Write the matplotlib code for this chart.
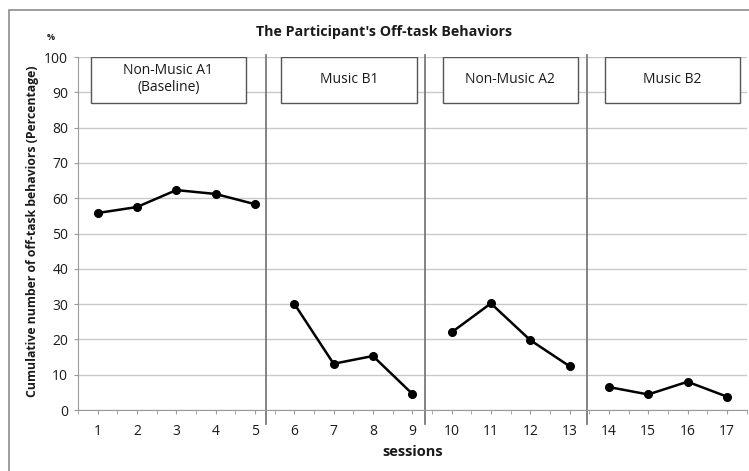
import numpy as np
import matplotlib.pyplot as plt
from matplotlib.patches import Rectangle

# data
sessions = np.arange(1, 18)
off_task = [55.8, 57.5, 62.3, 61.2, 58.3,
            30.1, 13.1, 15.3, 4.6,
            22.0, 30.2, 19.8, 12.4,
            6.5, 4.4, 8.0, 3.8]
phase_names = ["Non-Music A1\n(Baseline)", "Music B1", "Non-Music A2", "Music B2"]
phase_sessions = [(1, 5), (6, 9), (10, 13), (14, 17)]
phase_changes = [5.27, 9.33, 13.44]

# layout
box_x = [(0.82, 4.78), (5.67, 9.11), (9.77, 13.22), (13.9, 17.34)]
box_y = (86.9, 100)

plt.rcParams['font.family'] = ['Open Sans', 'DejaVu Sans']
txt_col = "#1a1a1a"

fig = plt.figure(figsize=(7.49, 4.71), dpi=100)
W, H = 749, 471
ax = fig.add_axes([78 / W, (H - 410) / H, (746.5 - 78) / W, (410 - 57) / H])

# outer frame of the original chart (cut off at right/bottom)
fig.patches.append(Rectangle((9 / W, -0.1), 1.2, (H - 10) / H + 0.1,
                             transform=fig.transFigure, fill=False,
                             ec="#8c8c8c", lw=1.2))

ax.set_xlim(0.5, 17.5)
ax.set_ylim(0, 100)
ax.set_yticks(np.arange(0, 101, 10))
ax.set_xticks(sessions)
ax.set_xticks(np.arange(0.5, 17.6, 1), minor=True)
ax.grid(axis="y", color="#c9c9c9", lw=1)
ax.set_axisbelow(True)
for s in ["top", "right"]:
    ax.spines[s].set_visible(False)
for s in ["left", "bottom"]:
    ax.spines[s].set_color("#9a9a9a")
ax.tick_params(axis="x", which="both", length=3, color="#9a9a9a", labelsize=10,
               labelcolor=txt_col, pad=7)
ax.tick_params(axis="y", length=3, color="#9a9a9a", labelsize=10,
               labelcolor=txt_col, pad=4)

# phase change lines
for xc in phase_changes:
    ax.plot([xc, xc], [-4, 100.6], color="#7a7a7a", lw=1.3, clip_on=False, zorder=2)

# data, one segment per phase
for a, b in phase_sessions:
    idx = slice(a - 1, b)
    ax.plot(sessions[idx], off_task[idx], color="black", lw=1.8, marker="o",
            ms=5.5, zorder=4)

# phase label boxes
for name, (x0, x1) in zip(phase_names, box_x):
    ax.add_patch(Rectangle((x0, box_y[0]), x1 - x0, box_y[1] - box_y[0],
                           fc="white", ec="#555555", lw=1, zorder=3))
    ax.text((x0 + x1) / 2, (box_y[0] + box_y[1]) / 2 + 0.3, name, ha="center",
            va="center", fontsize=10, color=txt_col, zorder=5, linespacing=1.15)

fig.text(384 / W, 1 - 32 / H, "The Participant's Off-task Behaviors", ha="center",
         va="center", fontsize=10.3, fontweight="bold", color=txt_col)
fig.text(51 / W, 1 - 37 / H, "%", ha="center", va="center", fontsize=6.5,
         fontweight="bold", color=txt_col)
fig.text(33 / W, 1 - 231 / H, "Cumulative number of off-task behaviors (Percentage)",
         rotation=90, ha="center", va="center", fontsize=8.8, fontweight="bold",
         color=txt_col)
fig.text(413 / W, 1 - 452 / H, "sessions", ha="center", va="center", fontsize=10.5,
         fontweight="bold", color=txt_col)

fig.savefig("out.png", dpi=100)
